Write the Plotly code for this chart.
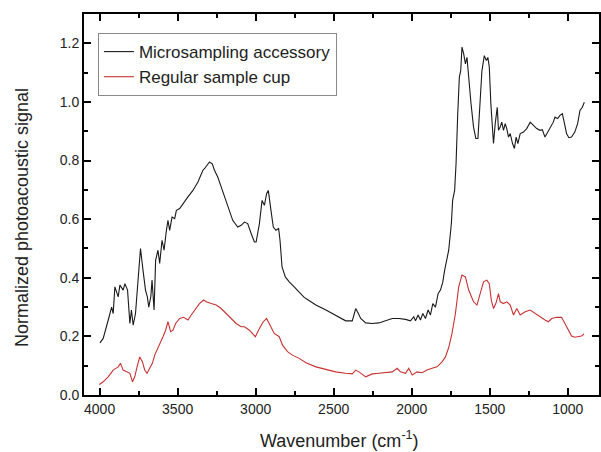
import plotly.graph_objects as go

# Microsampling accessory (black)
micro_wn = [3998, 3977, 3945, 3923, 3913, 3902, 3881, 3870, 3849, 3838, 3821, 3806, 3796, 3785, 3770,
            3753, 3738, 3722, 3706, 3694, 3685, 3672, 3664, 3651, 3641, 3626, 3615, 3600, 3587, 3572,
            3562, 3551, 3536, 3519, 3508, 3487, 3466, 3434, 3402, 3370, 3338, 3328, 3296, 3278, 3264,
            3243, 3221, 3200, 3168, 3147, 3115, 3093, 3072, 3051, 3029, 3008, 2997, 2976, 2959, 2944,
            2930, 2919, 2902, 2887, 2870, 2853, 2844, 2831, 2810, 2785, 2753, 2721, 2689, 2668, 2614,
            2550, 2508, 2466, 2423, 2381, 2359, 2342, 2327, 2295, 2253, 2210, 2167, 2125, 2082, 2040,
            2008, 1987, 1976, 1959, 1944, 1929, 1912, 1895, 1880, 1865, 1848, 1831, 1816, 1801, 1789,
            1774, 1763, 1746, 1738, 1725, 1716, 1706, 1695, 1686, 1678, 1667, 1656, 1646, 1635, 1620,
            1604, 1589, 1576, 1561, 1550, 1535, 1522, 1512, 1503, 1493, 1482, 1476, 1465, 1452, 1444,
            1433, 1423, 1412, 1401, 1391, 1380, 1369, 1354, 1342, 1331, 1320, 1305, 1284, 1263, 1241,
            1220, 1199, 1178, 1163, 1146, 1129, 1107, 1093, 1082, 1065, 1050, 1035, 1023, 1008, 993,
            976, 955, 937, 922, 907, 894]
micro_val = [0.178, 0.193, 0.255, 0.300, 0.278, 0.369, 0.335, 0.375, 0.358, 0.380, 0.358, 0.244, 0.290, 0.238, 0.278,
             0.415, 0.500, 0.426, 0.358, 0.335, 0.300, 0.335, 0.392, 0.290, 0.460, 0.494, 0.449, 0.528, 0.494, 0.562,
             0.596, 0.562, 0.607, 0.602, 0.630, 0.636, 0.653, 0.676, 0.698, 0.727, 0.767, 0.772, 0.795, 0.789, 0.767,
             0.744, 0.710, 0.676, 0.630, 0.596, 0.573, 0.579, 0.590, 0.585, 0.551, 0.522, 0.522, 0.585, 0.664, 0.647,
             0.687, 0.698, 0.630, 0.573, 0.562, 0.568, 0.528, 0.437, 0.403, 0.386, 0.369, 0.350, 0.333, 0.326, 0.307,
             0.290, 0.278, 0.265, 0.253, 0.253, 0.295, 0.278, 0.261, 0.246, 0.244, 0.246, 0.253, 0.261, 0.261, 0.258,
             0.253, 0.267, 0.253, 0.273, 0.256, 0.278, 0.261, 0.290, 0.273, 0.312, 0.300, 0.346, 0.358, 0.385, 0.426,
             0.460, 0.494, 0.585, 0.664, 0.698, 0.789, 0.948, 1.085, 1.107, 1.187, 1.164, 1.130, 1.152, 1.073, 0.994,
             0.914, 0.875, 0.875, 1.016, 1.107, 1.158, 1.141, 1.152, 1.119, 0.994, 0.903, 0.858, 0.926, 0.982, 0.903,
             0.914, 0.931, 0.903, 0.926, 0.909, 0.880, 0.892, 0.858, 0.841, 0.880, 0.858, 0.892, 0.897, 0.909, 0.931,
             0.920, 0.909, 0.903, 0.905, 0.880, 0.897, 0.914, 0.931, 0.948, 0.943, 0.954, 0.960, 0.931, 0.892, 0.878,
             0.880, 0.897, 0.926, 0.971, 0.982, 0.999]

# Regular sample cup (red)
cup_wn = [4002, 3977, 3945, 3913, 3881, 3866, 3849, 3828, 3806, 3789, 3775, 3760, 3743, 3725, 3711,
          3696, 3679, 3662, 3647, 3632, 3615, 3594, 3577, 3562, 3545, 3530, 3513, 3487, 3462, 3434,
          3413, 3381, 3360, 3334, 3317, 3285, 3253, 3221, 3189, 3157, 3125, 3093, 3072, 3040, 3002,
          2976, 2951, 2930, 2908, 2881, 2849, 2828, 2796, 2764, 2721, 2678, 2614, 2550, 2487, 2423,
          2381, 2359, 2338, 2295, 2253, 2210, 2167, 2125, 2093, 2072, 2040, 2019, 1997, 1966, 1934,
          1902, 1870, 1838, 1806, 1784, 1763, 1742, 1720, 1699, 1678, 1656, 1635, 1604, 1582, 1561,
          1540, 1519, 1503, 1490, 1476, 1461, 1444, 1433, 1412, 1391, 1369, 1348, 1327, 1305, 1273,
          1241, 1209, 1178, 1146, 1124, 1103, 1071, 1040, 1018, 997, 976, 955, 933, 912, 896]
cup_val = [0.036, 0.045, 0.062, 0.085, 0.096, 0.108, 0.085, 0.079, 0.074, 0.045, 0.062, 0.096, 0.130, 0.113, 0.085,
           0.074, 0.091, 0.108, 0.136, 0.153, 0.170, 0.199, 0.221, 0.250, 0.216, 0.221, 0.244, 0.261, 0.265, 0.256,
           0.273, 0.295, 0.312, 0.324, 0.318, 0.312, 0.307, 0.295, 0.278, 0.261, 0.244, 0.233, 0.233, 0.221, 0.199,
           0.227, 0.250, 0.261, 0.238, 0.210, 0.199, 0.170, 0.148, 0.136, 0.125, 0.110, 0.096, 0.087, 0.079, 0.074,
           0.072, 0.085, 0.079, 0.062, 0.072, 0.074, 0.076, 0.079, 0.091, 0.079, 0.074, 0.091, 0.068, 0.079, 0.076,
           0.085, 0.091, 0.096, 0.113, 0.130, 0.162, 0.210, 0.278, 0.369, 0.409, 0.403, 0.358, 0.318, 0.307, 0.346,
           0.386, 0.392, 0.380, 0.324, 0.295, 0.312, 0.346, 0.318, 0.312, 0.318, 0.307, 0.273, 0.295, 0.273, 0.284,
           0.290, 0.278, 0.267, 0.256, 0.250, 0.261, 0.265, 0.265, 0.244, 0.221, 0.201, 0.197, 0.199, 0.201, 0.208]

x_ticks = [4000, 3500, 3000, 2500, 2000, 1500, 1000]
y_ticks = [0.0, 0.2, 0.4, 0.6, 0.8, 1.0, 1.2]

FONT = "Liberation Sans, Arial"

fig = go.Figure()
fig.add_trace(go.Scatter(x=micro_wn, y=micro_val, mode="lines", name="Microsampling accessory",
                         line=dict(color="#1a1a1a", width=1.1)))
fig.add_trace(go.Scatter(x=cup_wn, y=cup_val, mode="lines", name="Regular sample cup",
                         line=dict(color="#c83232", width=1.1)))

axis_common = dict(showline=True, linecolor="black", linewidth=2, mirror="ticks",
                   ticks="inside", ticklen=7, tickwidth=2, tickcolor="black",
                   showgrid=False, zeroline=False, automargin=False,
                   tickfont=dict(family=FONT, size=14, color="#222"))

fig.update_xaxes(range=[4100, 800], tickvals=x_ticks, ticktext=[str(v) for v in x_ticks],
                 minor=dict(ticks="inside", ticklen=4, tickwidth=2, tickcolor="black", dtick=250, tick0=0),
                 **axis_common)
fig.update_yaxes(range=[0, 1.3], tickvals=y_ticks, ticktext=[f"{v:.1f}" for v in y_ticks],
                 minor=dict(ticks="inside", ticklen=4, tickwidth=2, tickcolor="black", dtick=0.1, tick0=0),
                 **axis_common)

fig.update_layout(
    width=601, height=452,
    margin=dict(l=84, r=2, t=14, b=57),
    paper_bgcolor="white", plot_bgcolor="white",
    showlegend=True,
    legend=dict(x=0.027, y=0.95, xanchor="left", yanchor="top",
                bgcolor="white", bordercolor="#888", borderwidth=1,
                font=dict(family=FONT, size=17, color="#222"),
                tracegroupgap=0),
    annotations=[
        dict(text="Wavenumber (cm<sup>-1</sup>)", xref="paper", yref="paper",
             x=0.497, y=-0.118, xanchor="center", yanchor="middle", showarrow=False,
             font=dict(family=FONT, size=18, color="#222")),
        dict(text="Normalized photoacoustic signal", xref="paper", yref="paper",
             x=-0.12, y=0.465, xanchor="center", yanchor="middle", showarrow=False, textangle=-90,
             font=dict(family=FONT, size=18, color="#222")),
    ],
)

fig.write_html("out.html", config={"displayModeBar": False},
               post_script="document.body.style.margin='0';document.body.style.overflow='hidden';")
